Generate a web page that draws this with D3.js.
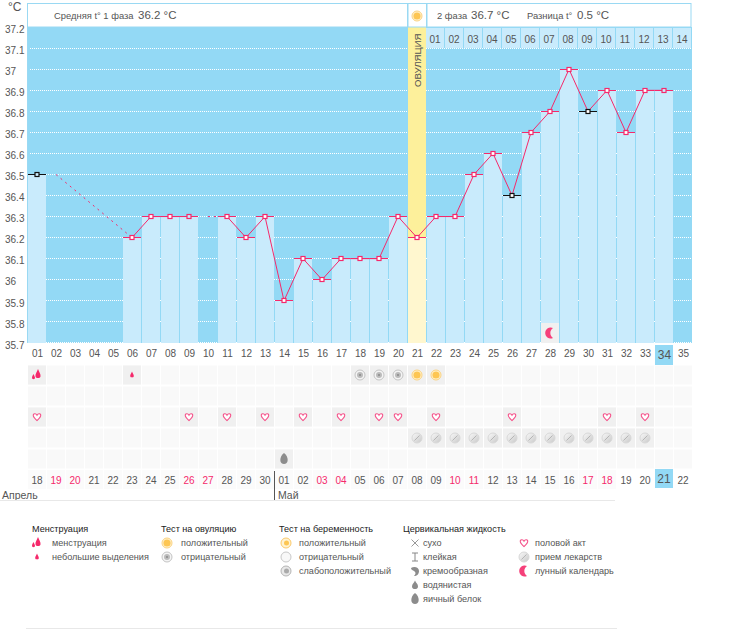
<!DOCTYPE html>
<html><head><meta charset="utf-8">
<script src="https://cdnjs.cloudflare.com/ajax/libs/d3/7.8.5/d3.min.js"></script>
<style>html,body{margin:0;padding:0;background:#fff}svg{display:block}text{font-family:"Liberation Sans",sans-serif;fill:#555}</style>
</head><body><svg id="c" width="730" height="629"></svg>
<script>
const cycleDays = d3.range(1, 36);
const temps = [36.5,null,null,null,null,36.2,36.3,36.3,36.3,null,36.3,36.2,36.3,35.9,36.1,36.0,36.1,36.1,36.1,36.3,36.2,36.3,36.3,36.5,36.6,36.4,36.7,36.8,37.0,36.8,36.9,36.7,36.9,36.9,null];
const excludedDays = [1, 26, 30];
const openDays = [1, 9, 34];
const yTicks = [37.2,37.1,37,36.9,36.8,36.7,36.6,36.5,36.4,36.3,36.2,36.1,36,35.9,35.8,35.7];
const dates = ["18","19","20","21","22","23","24","25","26","27","28","29","30","01","02","03","04","05","06","07","08","09","10","11","12","13","14","15","16","17","18","19","20","21","22"];
const redDates = [2,3,9,10,16,17,23,24,30,31];
const phaseDays = ["01","02","03","04","05","06","07","08","09","10","11","12","13","14"];
const ovulationDay = 21, todayDay = 34, moonDay = 28, phaseStart = 22;
const menstruation = [{d:1,k:"bigDrops"},{d:6,k:"smallDrop"}];
const ovulationTests = [{d:18,k:"grayTarget"},{d:19,k:"grayTarget"},{d:20,k:"grayTarget"},{d:21,k:"sun"},{d:22,k:"sun"}];
const hearts = [1,9,11,13,15,17,19,20,22,26,31,33];
const pills = [21,22,23,24,25,26,27,28,29,30,31,32,33];
const eggWhite = [14];
const legendHeads = [["Менструация",32],["Тест на овуляцию",161],["Тест на беременность",279],["Цервикальная жидкость",403]];
const legendItems = [
 ["менструация",52,37,0,"bigDrops"],["небольшие выделения",52,37,1,"smallDrop"],
 ["положительный",181,167,0,"sun"],["отрицательный",181,167,1,"grayTarget"],
 ["положительный",299,286,0,"pregPos"],["отрицательный",299,286,1,"pregNeg"],["слабоположительный",299,286,2,"pregWeak"],
 ["сухо",423,415,0,"cross"],["клейкая",423,415,1,"sticky"],["кремообразная",423,415,2,"cream"],["водянистая",423,415,3,"smallGray"],["яичный белок",423,415,4,"egg"],
 ["половой акт",535,524,0,"heart"],["прием лекарств",535,524,1,"pill"],["лунный календарь",535,524,2,"moon"]];

const BG="#93d9f5", BAR="#c9ebfc", PINK="#f5296b", CELL="#f9f9f9", ON="#f0f0f0", FONT='"Liberation Sans",sans-serif';
const svg = d3.select("#c");
const defs = svg.append("defs");
const pg = defs.append("linearGradient").attr("id","pillG").attr("x1",0).attr("y1",0).attr("x2",1).attr("y2",1);
pg.append("stop").attr("offset",0).attr("stop-color","#fafafa");
pg.append("stop").attr("offset",1).attr("stop-color","#c8c8c8");
const xb = d3.scaleBand().domain(cycleDays).range([28,693]);
const xc = d => xb(d)+9;
const y = d3.scaleLinear().domain([35.7,37.2]).range([342.6,27]);
const bw = 18;

svg.append("rect").attr("x",28).attr("y",27).attr("width",664).attr("height",316).attr("fill",BG);
svg.append("line").attr("x1",27.5).attr("x2",27.5).attr("y1",3).attr("y2",343).attr("stroke","#9ad9f3");

// grid
svg.append("g").selectAll("line").data(yTicks.slice(1)).join("line")
 .attr("x1",30).attr("x2",692).attr("y1",d=>Math.floor(y(d))+.5).attr("y2",d=>Math.floor(y(d))+.5)
 .attr("stroke","#fff").attr("stroke-dasharray","1 1");

// ovulation column
svg.append("rect").attr("x",xb(ovulationDay)).attr("y",27).attr("width",bw).attr("height",316).attr("fill","#fdf09b");

// bars
const known = cycleDays.map((d,i)=>({d,t:temps[i]})).filter(p=>p.t!==null);
svg.append("g").selectAll("rect").data(known).join("rect")
 .attr("x",p=>xb(p.d)).attr("y",p=>Math.floor(y(p.t))).attr("width",bw).attr("height",p=>343-Math.floor(y(p.t)))
 .attr("fill",p=>p.d===ovulationDay?"#fff7cf":BAR);

// phase day cells
svg.append("g").selectAll("rect").data(phaseDays).join("rect")
 .attr("x",(s,i)=>xb(phaseStart+i)-1).attr("y",28).attr("width",bw).attr("height",20).attr("fill",BAR);
svg.append("g").selectAll("text").data(phaseDays).join("text")
 .attr("x",(s,i)=>xc(phaseStart+i)-1).attr("y",43).attr("text-anchor","middle").attr("font-size",10).text(s=>s);

svg.append("text").attr("transform",`translate(${xc(ovulationDay)+3.5},87) rotate(-90)`).attr("font-size",9.6).text("ОВУЛЯЦИЯ");

// header
const head = svg.append("g");
[[27.5,380],[408,18.5],[427,264]].forEach(([x,w])=>head.append("rect").attr("x",x).attr("y",3.5).attr("width",w).attr("height",23.5).attr("fill","#fff").attr("stroke","#9ad9f3"));
[["Средняя t° 1 фаза",54,9.4],["36.2 °C",138,11.5],["2 фаза",437,9.4],["36.7 °C",471,11.5],["Разница t°",527,9.4],["0.5 °C",577,11.5]]
 .forEach(([s,x,f])=>head.append("text").attr("x",x).attr("y",19).attr("font-size",f).text(s));
svg.append("text").attr("x",8).attr("y",11).attr("font-size",12).text("°C");

// y axis
const ax = svg.append("g").attr("transform","translate(5,1)").call(d3.axisLeft(y).tickValues(yTicks).tickFormat(d3.format("~g")).tickSize(0));
ax.select(".domain").remove();
ax.selectAll("text").attr("x",0).attr("dy","0.45em").attr("text-anchor","start").attr("font-size",10).style("font-family",FONT).attr("fill","#555");

// temperature line
const line = d3.line().x(p=>xc(p.d)).y(p=>y(p.t)+.2);
for(let i=0;i<known.length-1;i++){
  const a=known[i], b=known[i+1];
  if(b.d-a.d===1){
    svg.append("path").attr("d",line([a,b])).attr("fill","none").attr("stroke",PINK).attr("stroke-width",1);
  } else {
    svg.append("path").attr("d",line([{d:a.d+1,t:a.t},b])).attr("fill","none").attr("stroke",PINK).attr("stroke-dasharray","2 4");
  }
}
const isEx = p=>excludedDays.includes(p.d);
svg.append("g").selectAll("line").data(known).join("line")
 .attr("x1",p=>xb(p.d)).attr("x2",p=>xb(p.d)+bw).attr("y1",p=>Math.floor(y(p.t))+.5).attr("y2",p=>Math.floor(y(p.t))+.5)
 .attr("stroke",p=>isEx(p)?"#111":PINK);
svg.append("g").selectAll("rect").data(known).join("rect")
 .attr("x",p=>xc(p.d)-2).attr("y",p=>Math.floor(y(p.t))-1.5).attr("width",4).attr("height",4)
 .attr("fill",p=>openDays.includes(p.d)?BAR:"#fff").attr("stroke",p=>isEx(p)?"#111":PINK).attr("stroke-width",1.2);

// moon cell
svg.append("rect").attr("x",xb(moonDay)).attr("y",323).attr("width",bw).attr("height",20).attr("fill",ON);

// icons
const icons = {
 bigDrops(g){g.append("path").attr("d","M1-6C2-3 4-1 3.5 1.5 3 3.5-1 3.5-1.5 1.5-2-1 0-3 1-6Z").attr("fill",PINK);g.append("path").attr("d","M-3.5-1C-3 .5-2 1.5-2 3-2 4.5-5 4.5-5 3-5 1.5-4-.5-3.5-1Z").attr("fill",PINK);},
 smallDrop(g){g.append("path").attr("d","M0-3.5C.6-1.5 2-.5 1.8 1.2 1.5 2.8-1.5 2.8-1.8 1.2-2-.5-.6-1.5 0-3.5Z").attr("fill",PINK);},
 sun(g){g.append("circle").attr("r",5).attr("fill","#fff3d2").attr("stroke","#fbd27f");g.append("circle").attr("r",3.6).attr("fill","#fdc653");},
 grayTarget(g){g.append("circle").attr("r",5).attr("fill","#f4f4f4").attr("stroke","#c4c4c4");g.append("circle").attr("r",3).attr("fill","#bbb");g.append("circle").attr("r",1).attr("fill","#888");},
 heart(g){g.append("path").attr("d","M0 3.6C-4-.2-4-1.2-3.7-2.2-3.2-3.6-1-3.6 0-1.8 1-3.6 3.2-3.6 3.7-2.2 4-1.2 4-.2 0 3.6Z").attr("fill","#fff").attr("stroke","#f5528a").attr("stroke-width",1.1);},
 pill(g){g.append("circle").attr("r",5).attr("fill","url(#pillG)").attr("stroke","#d8d8d8");g.append("line").attr("x1",-2.5).attr("y1",2.5).attr("x2",2.5).attr("y2",-2.5).attr("stroke","#aaa").attr("stroke-width",.8);},
 egg(g){g.append("path").attr("d","M0-6C2.5-4 3.7-1.5 3.7 1 3.7 3.5 2 5-0 5-2 5-3.7 3.5-3.7 1-3.7-1.5-2.5-4 0-6Z").attr("fill","#8c8c8c");},
 smallGray(g){g.append("path").attr("d","M0-4.5C1-2 3-1 3 1.5 3 3.5 1.5 4 0 4-1.5 4-3 3.5-3 1.5-3-1-1-2 0-4.5Z").attr("fill","#8c8c8c");},
 moon(g){g.append("path").attr("d","M3-5A5.5 5.5 0 1 0 3 5 6 6 0 0 1 3-5Z").attr("fill","#f5407a");},
 pregPos(g){g.append("circle").attr("r",5).attr("fill","#fff3d2").attr("stroke","#fbc96a");g.append("circle").attr("cx",.5).attr("r",2.5).attr("fill","#fdc653");},
 pregNeg(g){g.append("circle").attr("r",5).attr("fill","#f8f8f8").attr("stroke","#c8c8c8");},
 pregWeak(g){g.append("circle").attr("r",5).attr("fill","#e8e8e8").attr("stroke","#b5b5b5");g.append("circle").attr("cx",.5).attr("r",2.5).attr("fill","#aaa");},
 cross(g){g.append("path").attr("d","M-3.5-3.5L3.5 3.5M3.5-3.5L-3.5 3.5").attr("stroke","#999").attr("fill","none");},
 sticky(g){g.append("path").attr("d","M-3-4H3M-3 4H3M0-4V4").attr("stroke","#888").attr("fill","none");},
 cream(g){g.append("path").attr("d","M-4-3C-1-5 4-4 4 0 4 3 2 5-1 5 1 3 1 1-1 0-2-.5-4-1-4-3Z").attr("fill","#8c8c8c");}
};
const put = (parent,k,x,yy)=>{const g=parent.append("g").attr("transform",`translate(${x},${yy})`);icons[k](g);};
put(svg,"moon",xc(moonDay),333);
put(svg,"sun",417,16);

// day numbers
const dayAxis = svg.append("g").attr("transform","translate(0,350)").call(d3.axisBottom(xb).tickFormat(d3.format("02")).tickSize(0));
dayAxis.select(".domain").remove();
svg.append("rect").attr("x",xb(todayDay)).attr("y",345).attr("width",bw).attr("height",20).attr("fill",BG).lower();
dayAxis.selectAll("text").attr("y",0).attr("dy","0.71em").attr("font-size",d=>d===todayDay?12:10).style("font-family",FONT).attr("fill","#555");

// rows
const rowY = [365.5,386.5,407.5,428.5,449.5];
rowY.forEach(r=>svg.append("g").selectAll("rect").data(cycleDays).join("rect")
 .attr("x",d=>xb(d)).attr("y",r).attr("width",bw).attr("height",19).attr("fill",CELL));
const mark=(list,row,kf)=>list.forEach(o=>{
  const d=o.d||o; svg.append("rect").attr("x",xb(d)).attr("y",rowY[row]).attr("width",bw).attr("height",19).attr("fill",ON);
  put(svg,kf(o),xc(d),rowY[row]+9.5);
});
mark(menstruation,0,o=>o.k);
mark(ovulationTests,0,o=>o.k);
mark(hearts,2,()=> "heart");
mark(pills,3,()=> "pill");
mark(eggWhite,4,()=> "egg");

// dates
svg.append("g").selectAll("rect").data(cycleDays.filter(d=>d<=31)).join("rect")
 .attr("x",d=>xb(d)).attr("y",470).attr("width",bw).attr("height",19).attr("fill","#fbfbfb");
svg.append("rect").attr("x",xb(todayDay)).attr("y",469).attr("width",bw).attr("height",19).attr("fill",BG);
svg.append("g").selectAll("text").data(dates).join("text")
 .attr("x",(s,i)=>xc(i+1)).attr("y",(s,i)=>i+1===todayDay?483:483.5).attr("text-anchor","middle")
 .attr("font-size",(s,i)=>i+1===todayDay?12:10)
 .style("fill",(s,i)=>redDates.includes(i+1)?"#f5296b":"#555").text(s=>s);
svg.append("line").attr("x1",274.5).attr("x2",274.5).attr("y1",471).attr("y2",500).attr("stroke","#555");
svg.append("text").attr("x",2).attr("y",499).attr("font-size",10.5).text("Апрель");
svg.append("text").attr("x",278).attr("y",499).attr("font-size",10.5).text("Май");
svg.append("line").attr("x1",0).attr("x2",615).attr("y1",500.5).attr("y2",500.5).attr("stroke","#e8e8e8");
svg.append("line").attr("x1",26).attr("x2",617).attr("y1",628.5).attr("y2",628.5).attr("stroke","#e8e8e8");

// legend
legendHeads.forEach(([s,x])=>svg.append("text").attr("x",x).attr("y",532).attr("font-size",9.1).style("fill","#222").text(s));
legendItems.forEach(([s,tx,ix,r,k])=>{
  put(svg,k,ix,543+14*r);
  svg.append("text").attr("x",tx).attr("y",546+14*r).attr("font-size",9.1).text(s);
});
</script></body></html>
